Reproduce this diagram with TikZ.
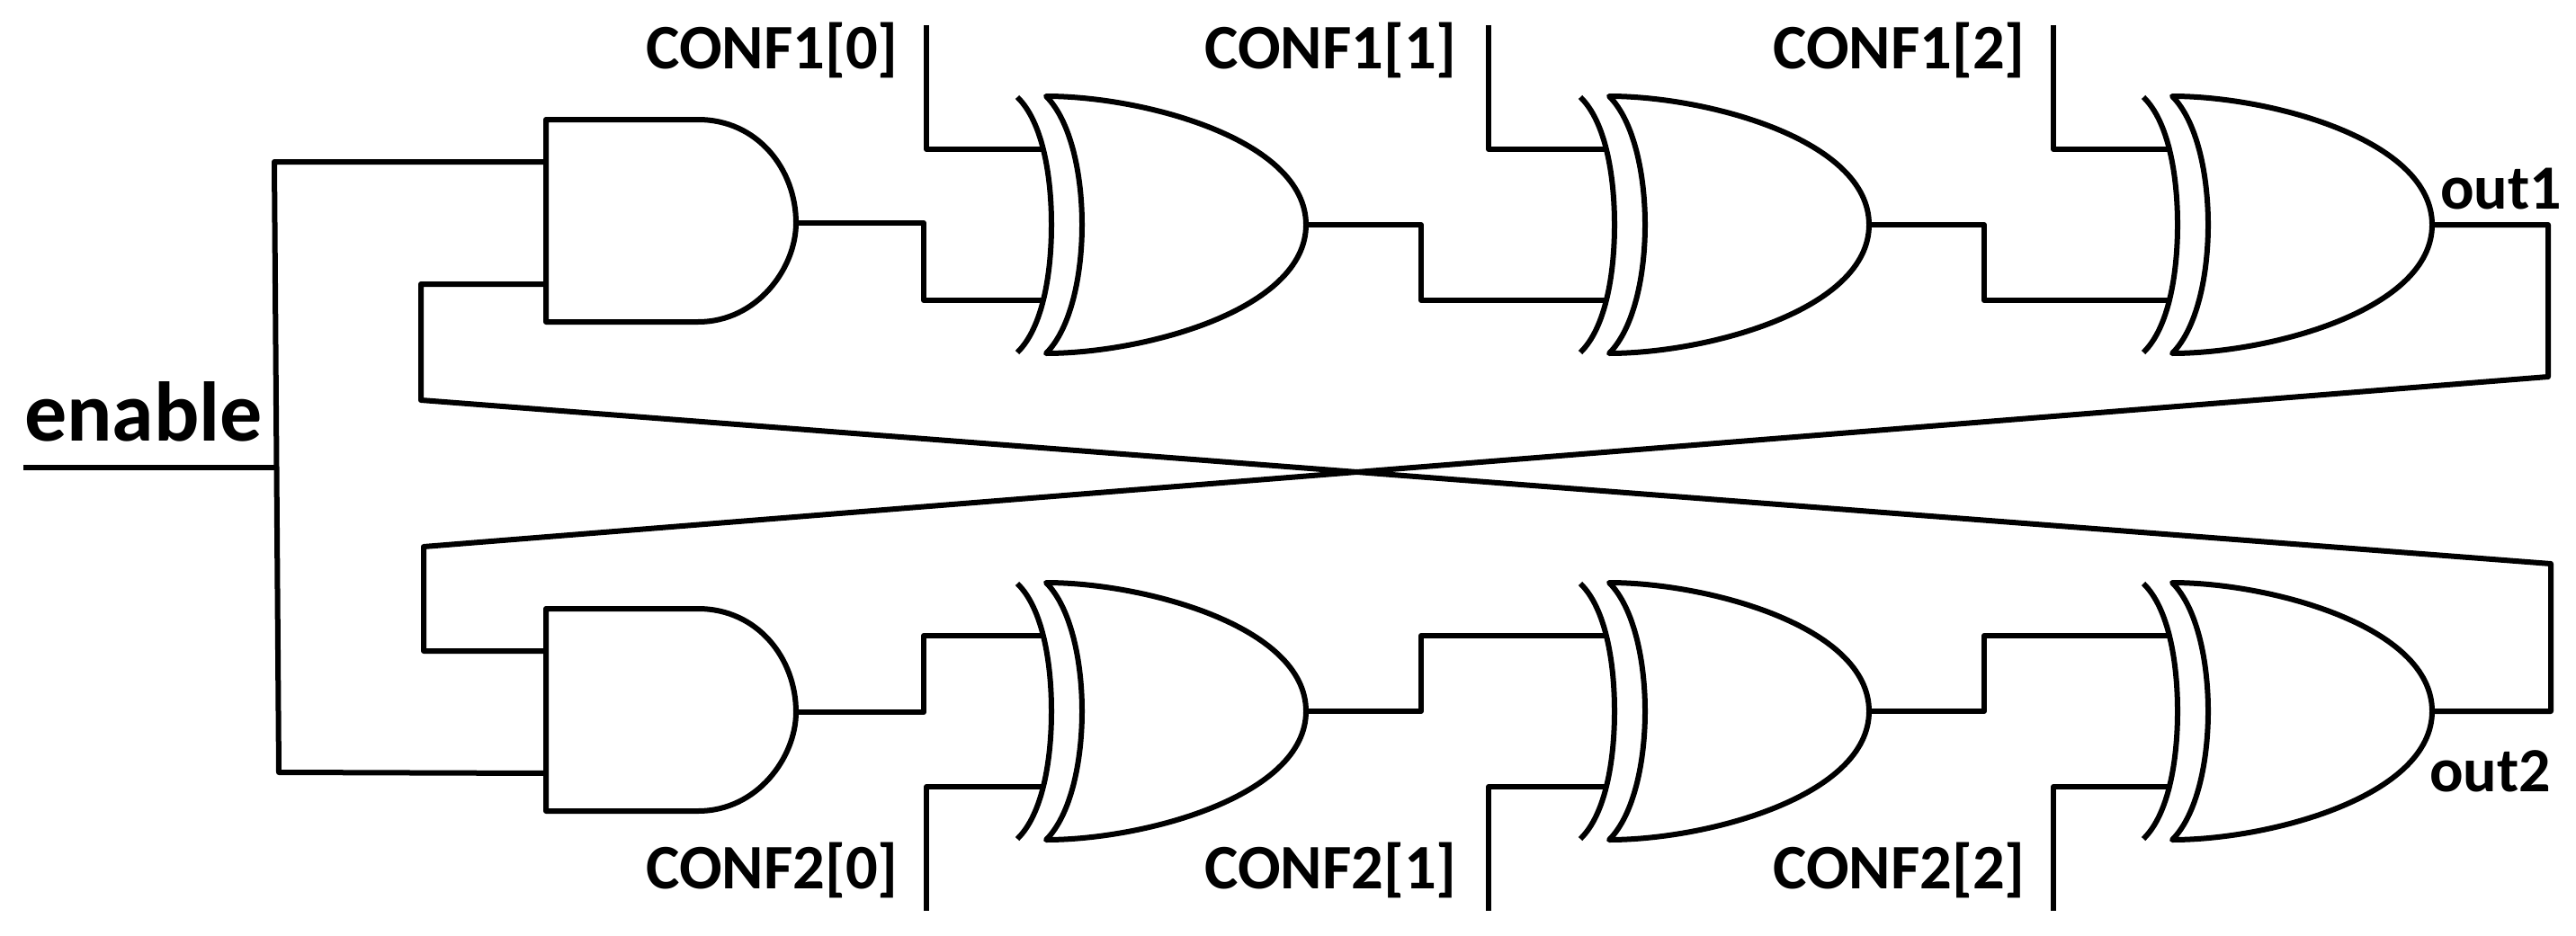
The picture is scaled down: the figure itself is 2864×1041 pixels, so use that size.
\documentclass[tikz,border=0pt]{standalone}
\usepackage{fontspec}
\setmainfont{Carlito}
\usetikzlibrary{positioning, calc}

\begin{document}
\begin{tikzpicture}[
    x=1pt, y=-1pt,
    wire/.style={line width=6pt, line join=round},
    txt/.style={font=\fontsize{70.5}{72}\selectfont\bfseries, inner sep=0pt},
    outtxt/.style={font=\fontsize{70}{70}\selectfont\bfseries, inner sep=0pt},
    bigtxt/.style={font=\fontsize{94}{94}\selectfont\bfseries, inner sep=0pt},
    andgate/.pic={
        \draw[wire] (0,-115) -- (169,-115) .. controls (235,-115) and (278,-60) .. (278,0)
            .. controls (278,50) and (235,110) .. (169,110) -- (0,110) -- cycle;
        \coordinate (-in1) at (0,-68);
        \coordinate (-in2) at (0,68);
        \coordinate (-out) at (278,0);
    },
    xorgate/.pic={
        \draw[wire] (0,-142) .. controls (28,-115) and (38,-55) .. (38,0)
            .. controls (38,55) and (28,115) .. (0,142);
        \draw[wire] (32,-143) .. controls (60,-115) and (72,-55) .. (72,0)
            .. controls (72,55) and (60,115) .. (32,143)
            .. controls (140,143) and (321,95) .. (321,0)
            .. controls (321,-95) and (140,-143) .. cycle;
        \coordinate (-in1) at (27,-84);
        \coordinate (-in2) at (27,84);
        \coordinate (-out) at (321,0);
    }]
    \useasboundingbox (0,0) rectangle (2864,1041);
    % Gates
    \pic (and1) at (607,248) {andgate};
    \pic (and2) at (607,792) {andgate};
    \foreach \i/\x in {0/1131, 1/1757, 2/2383} {
        \pic (xa\i) at (\x,250) {xorgate};
        \pic (xb\i) at (\x,791) {xorgate};
    }
    % Free wire ends and bends
    \coordinate (enin) at (26,520);
    \coordinate (enj) at (307,520);
    \coordinate (ent) at (305,180);
    \coordinate (enb) at (310,859);
    \coordinate (fba) at (468,445);
    \coordinate (fbb) at (471,608);
    \coordinate (outa) at (2833,419);
    \coordinate (outb) at (2836,627);
    % Enable
    \draw[wire] (enin) -- (enj);
    \draw[wire] (and1-in1) -- (ent) -- (enb) -- (and2-in2);
    % Cross feedback
    \draw[wire] (xa2-out) -| (outa) -- (fbb) |- (and2-in1);
    \draw[wire] (xb2-out) -| (outb) -- (fba) |- (and1-in2);
    % Chains
    \draw[wire] (and1-out) -- ++(142,0) |- (xa0-in2);
    \draw[wire] (and2-out) -- ++(142,0) |- (xb0-in1);
    \foreach \i/\j in {0/1, 1/2} {
        \draw[wire] (xa\i-out) -- ++(128,0) |- (xa\j-in2);
        \draw[wire] (xb\i-out) -- ++(128,0) |- (xb\j-in1);
    }
    % Configuration inputs
    \foreach \i/\x/\r in {0/1030/999, 1/1655/1620, 2/2283/2252} {
        \coordinate (ca\i) at (\x,28);
        \coordinate (cb\i) at (\x,1013);
        \draw[wire] (ca\i) |- (xa\i-in1);
        \draw[wire] (cb\i) |- (xb\i-in2);
        \node[txt, anchor=base east] (laba\i) at (\r,77) {CONF1[\i]};
        \node[txt, anchor=base east] (labb\i) at (\r,988) {CONF2[\i]};
    }
    \node[bigtxt, anchor=base west] (enable) at (27,490) {enable};
    \node[outtxt, anchor=base west] (out1) at (2713,232) {out1};
    \node[outtxt, anchor=base west] (out2) at (2701,880) {out2};
\end{tikzpicture}
\end{document}
